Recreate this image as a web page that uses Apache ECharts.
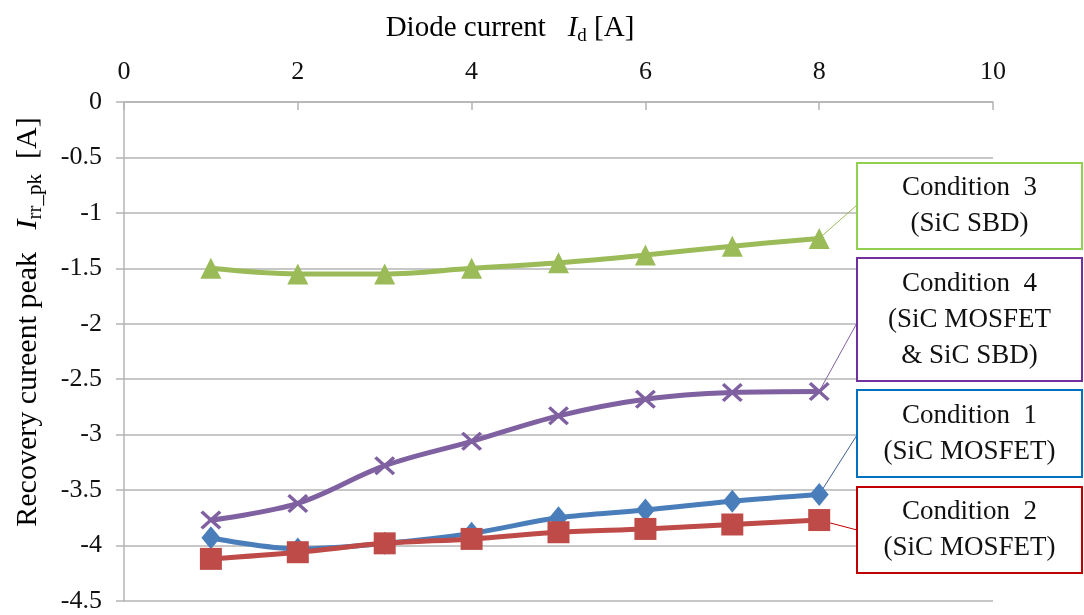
<!DOCTYPE html>
<html>
<head>
<meta charset="utf-8">
<script src="https://cdn.jsdelivr.net/npm/echarts@6/dist/echarts.min.js"></script>
<style>
  html, body { margin: 0; padding: 0; background: #fff; }
  #chart { width: 1084px; height: 615px; }
</style>
</head>
<body>
<div id="chart"></div>
<script>
// Diode current Id [A]
const diodeCurrent = [1, 2, 3, 4, 5, 6, 7, 8];
// Recovery current peak Irr_pk [A] for each test condition
const condition1 = [-3.93, -4.03, -3.98, -3.89, -3.75, -3.68, -3.60, -3.54];
const condition2 = [-4.12, -4.06, -3.98, -3.94, -3.88, -3.85, -3.81, -3.77];
const condition3 = [-1.50, -1.55, -1.55, -1.50, -1.45, -1.38, -1.30, -1.23];
const condition4 = [-3.77, -3.62, -3.28, -3.06, -2.83, -2.68, -2.62, -2.61];
// Axis ranges and tick steps
const xTicks = { min: 0, max: 10, step: 2 };
const yTicks = { min: -4.5, max: 0, step: 0.5 };
// Callout texts
const calloutTexts = [
  'Condition  3\n(SiC SBD)',
  'Condition  4\n(SiC MOSFET\n& SiC SBD)',
  'Condition  1\n(SiC MOSFET)',
  'Condition  2\n(SiC MOSFET)'
];

const FONT = '"Liberation Serif", "Times New Roman", serif';
const GRID_GRAY = '#b4b4b4';

const pairs = arr => diodeCurrent.map((x, i) => [x, arr[i]]);

const crossPath = 'path://M0,1.2 L1.2,0 L5,3.8 L8.8,0 L10,1.2 L6.2,5 L10,8.8 L8.8,10 L5,6.2 L1.2,10 L0,8.8 L3.8,5 Z';

function lineSeries(name, data, color, symbol, size, z) {
  return {
    name, type: 'line', data: pairs(data), smooth: 0.35, z,
    symbol, symbolSize: size,
    lineStyle: { color, width: 5 },
    itemStyle: { color, opacity: 1 },
    emphasis: { disabled: true },
    animation: false
  };
}

const chart = echarts.init(document.getElementById('chart'), null, { renderer: 'canvas' });

chart.setOption({
  backgroundColor: '#fff',
  animation: false,
  grid: { left: 124, right: 91, top: 102, bottom: 14 },
  xAxis: {
    type: 'value', position: 'top',
    min: xTicks.min, max: xTicks.max, interval: xTicks.step,
    axisLine: { show: true, lineStyle: { color: GRID_GRAY, width: 1.5 } },
    axisTick: { show: true, inside: true, length: 8, lineStyle: { color: GRID_GRAY, width: 1.5 } },
    splitLine: { show: false },
    axisLabel: { margin: 17, fontFamily: FONT, fontSize: 26, color: '#111' }
  },
  yAxis: {
    type: 'value',
    min: yTicks.min, max: yTicks.max, interval: yTicks.step,
    axisLine: { show: true, onZero: false, lineStyle: { color: GRID_GRAY, width: 1.5 } },
    axisTick: { show: true, inside: false, length: 8, lineStyle: { color: GRID_GRAY, width: 1.5 } },
    splitLine: { show: true, lineStyle: { color: GRID_GRAY, width: 1.5 } },
    axisLabel: { margin: 22, fontFamily: FONT, fontSize: 26, color: '#111' }
  },
  series: [
    lineSeries('Condition 1', condition1, '#4a7ebb', 'diamond', [19, 23], 3),
    lineSeries('Condition 2', condition2, '#be4b48', 'rect', [22, 22], 4),
    lineSeries('Condition 4', condition4, '#7f60a0', crossPath, [21, 19], 5),
    lineSeries('Condition 3', condition3, '#9bbb59', 'triangle', [21, 21], 6)
  ]
});

// Axis titles with italic symbol and subscript
function titleRich(size, subSize) {
  return {
    a: { fontFamily: FONT, fontSize: size, color: '#111', lineHeight: size + 6, verticalAlign: 'middle' },
    i: { fontFamily: FONT, fontSize: size, fontStyle: 'italic', color: '#111', lineHeight: size + 6, verticalAlign: 'middle' },
    s: { fontFamily: FONT, fontSize: subSize, color: '#111', lineHeight: subSize + 2, verticalAlign: 'bottom' }
  };
}

const boxes = [
  { y: 163, h: 86, color: '#92d050', anchor: 205, series: condition3, text: calloutTexts[0] },
  { y: 258, h: 123, color: '#7030a0', anchor: 323, series: condition4, text: calloutTexts[1] },
  { y: 390, h: 87, color: '#0070c0', anchor: 435, series: condition1, text: calloutTexts[2] },
  { y: 487, h: 86, color: '#c00000', anchor: 530, series: condition2, text: calloutTexts[3] }
];
const leaderColors = ['#9bbb59', '#7f60a0', '#3f5f8f', '#c00000'];
const boxLeft = 857, boxWidth = 225;
const last = diodeCurrent.length - 1;

const graphics = [
  {
    type: 'text', z: 20, silent: true,
    x: 510, y: 28,
    style: {
      text: '{a|Diode current   }{i|I}{s|d}{a| [A]}',
      rich: titleRich(29, 19), align: 'center', verticalAlign: 'middle'
    }
  },
  {
    type: 'text', z: 20, silent: true,
    x: 28, y: 322, rotation: Math.PI / 2,
    style: {
      text: '{a|Recovery cureent peak   }{i|I}{s|rr_pk}{a|  [A]}',
      rich: titleRich(30, 21), align: 'center', verticalAlign: 'middle'
    }
  }
];

boxes.forEach((b, k) => {
  const p = chart.convertToPixel({ gridIndex: 0 }, [diodeCurrent[last], b.series[last]]);
  graphics.push({
    type: 'line', z: 1, silent: true,
    shape: { x1: boxLeft, y1: b.anchor, x2: p[0], y2: p[1] },
    style: { stroke: leaderColors[k], lineWidth: 1 }
  });
  graphics.push({
    type: 'rect', z: 20, silent: true,
    shape: { x: boxLeft, y: b.y, width: boxWidth, height: b.h },
    style: { fill: '#fff', stroke: b.color, lineWidth: 2 }
  });
  graphics.push({
    type: 'text', z: 21, silent: true,
    x: boxLeft + boxWidth / 2, y: b.y + b.h / 2,
    style: {
      text: b.text, fontFamily: FONT, fontSize: 27, fill: '#111',
      lineHeight: 36, align: 'center', verticalAlign: 'middle'
    }
  });
});

chart.setOption({ graphic: { elements: graphics } });
</script>
</body>
</html>
